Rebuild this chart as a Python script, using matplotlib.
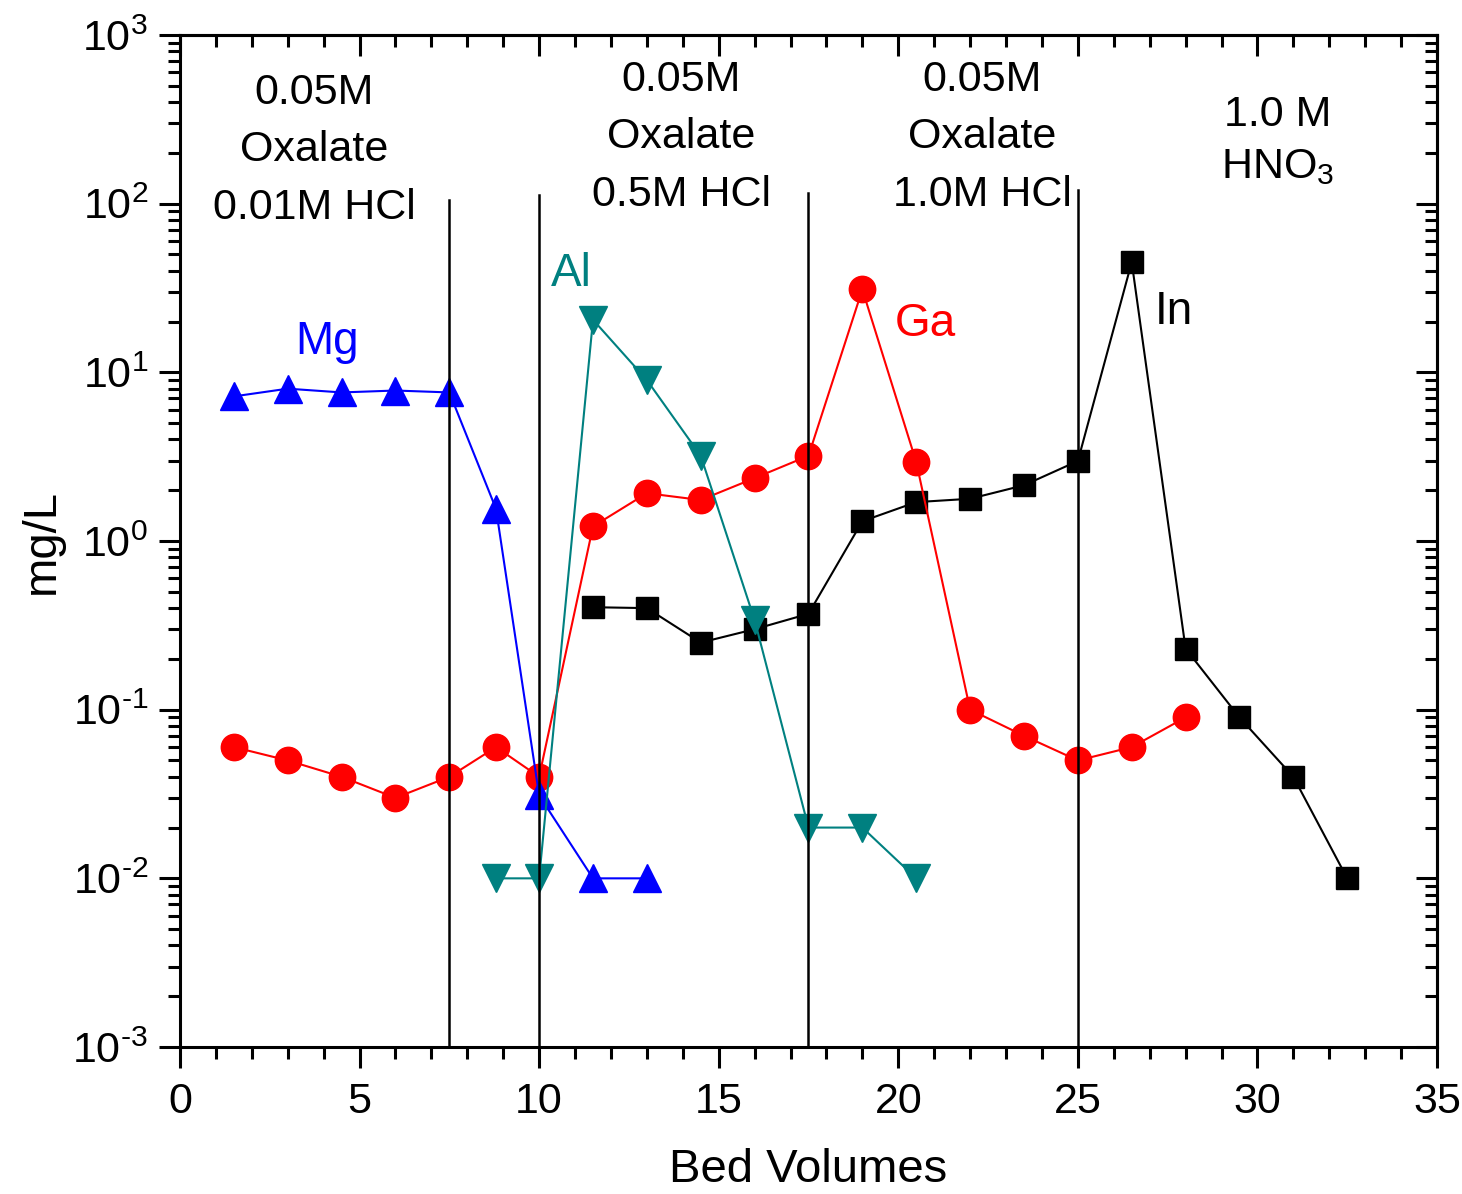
import numpy as np
import matplotlib
matplotlib.use("Agg")
import matplotlib.pyplot as plt
from matplotlib.ticker import LogLocator, FuncFormatter, MultipleLocator, NullFormatter

# Elution profile data (bed volumes vs concentration in mg/L)
mg_bv = [1.5, 3, 4.5, 6, 7.5, 8.8, 10, 11.5, 13]
mg_conc = [7.2, 8.0, 7.6, 7.8, 7.6, 1.55, 0.031, 0.01, 0.01]

al_bv = [8.8, 10, 11.5, 13, 14.5, 16, 17.5, 19, 20.5]
al_conc = [0.01, 0.01, 20.5, 9.0, 3.2, 0.34, 0.02, 0.02, 0.01]

ga_bv = [1.5, 3, 4.5, 6, 7.5, 8.8, 10, 11.5, 13, 14.5, 16, 17.5, 19, 20.5,
         22, 23.5, 25, 26.5, 28]
ga_conc = [0.06, 0.05, 0.04, 0.03, 0.04, 0.06, 0.04, 1.22, 1.92, 1.75, 2.36,
           3.2, 31, 2.94, 0.1, 0.07, 0.05, 0.06, 0.09]

in_bv = [11.5, 13, 14.5, 16, 17.5, 19, 20.5, 22, 23.5, 25, 26.5, 28, 29.5,
         31, 32.5]
in_conc = [0.405, 0.40, 0.25, 0.30, 0.37, 1.31, 1.7, 1.78, 2.14, 2.98, 45,
           0.23, 0.09, 0.04, 0.01]

# Eluent change points and the eluent labels
cuts = [7.5, 10, 17.5, 25]
cut_tops = [0.837, 0.842, 0.844, 0.847]
eluents = ["0.05M\nOxalate\n0.01M HCl", "0.05M\nOxalate\n0.5M HCl",
           "0.05M\nOxalate\n1.0M HCl", "1.0 M\nHNO$_{3}$"]

plt.rcParams['font.family'] = ['Liberation Sans', 'DejaVu Sans']
plt.rcParams['mathtext.fontset'] = 'custom'
plt.rcParams['mathtext.rm'] = 'Liberation Sans'
plt.rcParams['mathtext.default'] = 'regular'

teal = '#008080'


def pow_label(v, pos):
    e = int(round(np.log10(v)))
    if e < 0:
        return r'$10^{\text{-}%d}$' % (-e)
    return '$10^{%d}$' % e


fig = plt.figure(figsize=(14.62, 11.94), dpi=100)
ax = fig.add_axes([0.1231, 0.1231, 0.8598, 0.8476])

ax.plot(in_bv, in_conc, color='black', lw=1.5, marker='s', ms=16, mec='black')
ax.plot(ga_bv, ga_conc, color='red', lw=1.5, marker='o', ms=19, mec='red')
ax.plot(mg_bv, mg_conc, color='blue', lw=1.5, marker='^', ms=20, mec='blue')
ax.plot(al_bv, al_conc, color=teal, lw=1.5, marker='v', ms=20, mec=teal)

for x, top in zip(cuts, cut_tops):
    ax.axvline(x, ymin=0, ymax=top, color='black', lw=1.8, zorder=5)

ax.set_yscale('log')
ax.set_xlim(0, 35)
ax.set_ylim(1e-3, 1e3)

ax.xaxis.set_major_locator(MultipleLocator(5))
ax.xaxis.set_minor_locator(MultipleLocator(1))
ax.yaxis.set_major_locator(LogLocator(base=10, numticks=10))
ax.yaxis.set_minor_locator(LogLocator(base=10, subs=np.arange(2, 10), numticks=10))
ax.yaxis.set_minor_formatter(NullFormatter())
ax.yaxis.set_major_formatter(FuncFormatter(pow_label))

ax.tick_params(which='both', direction='out', width=2.2, labelsize=31,
               top=False, right=False)
ax.tick_params(which='major', length=15)
ax.tick_params(which='minor', length=8.5)
ax.tick_params(axis='x', pad=10)
ax.tick_params(axis='y', pad=8)

# inward ticks on the top and right edges
top = ax.secondary_xaxis('top')
top.xaxis.set_major_locator(MultipleLocator(5))
top.xaxis.set_minor_locator(MultipleLocator(1))
top.tick_params(which='both', direction='in', width=2.2, labeltop=False)
top.tick_params(which='major', length=15)
top.tick_params(which='minor', length=8.5)

right = ax.secondary_yaxis('right')
right.yaxis.set_major_locator(LogLocator(base=10, numticks=10))
right.yaxis.set_minor_locator(LogLocator(base=10, subs=np.arange(2, 10), numticks=10))
right.tick_params(which='both', direction='in', width=2.2, labelright=False)
right.tick_params(which='major', length=15)
right.tick_params(which='minor', length=8.5)

for s in list(ax.spines.values()) + [top.spines['top'], right.spines['right']]:
    s.set_linewidth(2.2)

ax.set_xlabel('Bed Volumes', fontsize=34, labelpad=19)
ax.set_ylabel('mg/L', fontsize=34, labelpad=6)

# eluent labels
ax.text(0.1066, 0.886, eluents[0], transform=ax.transAxes, fontsize=31,
        ha='center', va='center', linespacing=1.56)
ax.text(0.399, 0.899, eluents[1], transform=ax.transAxes, fontsize=31,
        ha='center', va='center', linespacing=1.56)
ax.text(0.638, 0.899, eluents[2], transform=ax.transAxes, fontsize=31,
        ha='center', va='center', linespacing=1.56)
ax.text(0.873, 0.895, eluents[3], transform=ax.transAxes, fontsize=31,
        ha='center', va='center', linespacing=1.4)

# element labels
ax.text(4.09, 0.697, 'Mg', transform=ax.get_xaxis_transform(), fontsize=33,
        color='blue', ha='center', va='center')
ax.text(10.9, 0.764, 'Al', transform=ax.get_xaxis_transform(), fontsize=33,
        color=teal, ha='center', va='center')
ax.text(20.75, 0.714, 'Ga', transform=ax.get_xaxis_transform(), fontsize=33,
        color='red', ha='center', va='center')
ax.text(27.68, 0.726, 'In', transform=ax.get_xaxis_transform(), fontsize=33,
        color='black', ha='center', va='center')

fig.savefig('out.png', dpi=100)
